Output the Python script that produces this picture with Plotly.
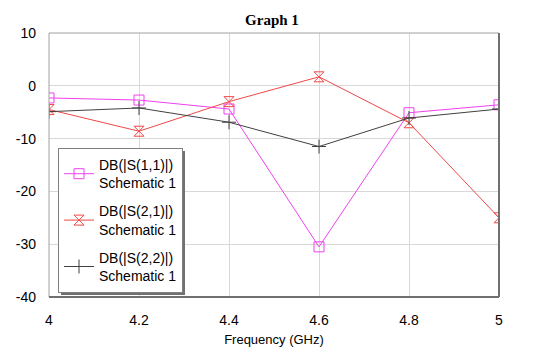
import plotly.graph_objects as go

freq = [4.0, 4.2, 4.4, 4.6, 4.8, 5.0]
s11 = [-2.3, -2.7, -4.4, -30.5, -5.1, -3.6]
s21 = [-4.5, -8.6, -3.0, 1.7, -7.0, -25.0]
s22 = [-4.9, -4.2, -6.9, -11.5, -6.1, -4.4]
names = ["DB(|S(1,1)|)<br>Schematic 1", "DB(|S(2,1)|)<br>Schematic 1", "DB(|S(2,2)|)<br>Schematic 1"]
colors = ["#F040F0", "#F04848", "#404040"]
symbols = ["square-open", "hourglass-open", "cross-thin-open"]
xticks = [4, 4.2, 4.4, 4.6, 4.8, 5]
yticks = [10, 0, -10, -20, -30, -40]

fig = go.Figure()
for i, (ys, nm, c, sym) in enumerate(zip([s11, s21, s22], names, colors, symbols)):
    fig.add_trace(go.Scatter(
        x=freq, y=ys, mode="lines+markers", name=nm, legendgroup=f"g{i}",
        line=dict(color=c, width=1),
        marker=dict(symbol=sym, size=10, color=c, line=dict(color=c, width=1)),
    ))

W, H = 540, 358
L, R, T, B = 49, 41, 33, 61
pw, ph = W - L - R, H - T - B

def px(x):
    return (x - L) / pw

def py(y):
    return (H - B - y) / ph

shapes = [
    # legend shadow
    dict(type="rect", xref="paper", yref="paper", x0=px(61), x1=px(185), y0=py(295), y1=py(151),
         fillcolor="#707070", line=dict(width=0), layer="above"),
    # frame
    dict(type="rect", xref="paper", yref="paper", x0=0, x1=1, y0=0, y1=1,
         line=dict(color="#A0A0A0", width=1), layer="above"),
    dict(type="line", xref="paper", yref="paper", x0=1, x1=1, y0=0, y1=1,
         line=dict(color="#707070", width=2), layer="above"),
    dict(type="line", xref="paper", yref="paper", x0=0, x1=1, y0=0, y1=0,
         line=dict(color="#707070", width=2), layer="above"),
]

fig.update_layout(
    width=W, height=H,
    margin=dict(l=L, r=R, t=T, b=B, autoexpand=False),
    paper_bgcolor="white", plot_bgcolor="white",
    title=dict(text="<b>Graph 1</b>", x=272 / W, xanchor="center", xref="container",
               y=1 - 20 / H, yanchor="middle", yref="container",
               font=dict(family="Liberation Serif", size=15, color="black")),
    font=dict(family="Liberation Sans", color="black"),
    xaxis=dict(range=[4, 5], tickvals=xticks, ticktext=[str(t) for t in xticks],
               showgrid=True, gridcolor="#D8D8D8", gridwidth=1, zeroline=False,
               showline=False, ticks="", tickfont=dict(size=14), ticklabelstandoff=13,
               automargin=False,
               title=dict(text="Frequency (GHz)", font=dict(size=13), standoff=7)),
    yaxis=dict(range=[-40, 10], tickvals=yticks, ticktext=[str(t) for t in yticks],
               showgrid=True, gridcolor="#D8D8D8", gridwidth=1, zeroline=False,
               showline=False, ticks="", tickfont=dict(size=14), ticklabelstandoff=12,
               automargin=False),
    showlegend=True,
    legend=dict(x=px(58), y=py(148), xanchor="left", yanchor="top",
                bgcolor="white", bordercolor="#808080", borderwidth=1,
                font=dict(size=14, family="Liberation Sans"),
                traceorder="grouped", tracegroupgap=7, itemwidth=30),
    shapes=shapes,
)

fig.write_html("out.html", post_script="document.body.style.margin='0';",
               config={"displayModeBar": False})
